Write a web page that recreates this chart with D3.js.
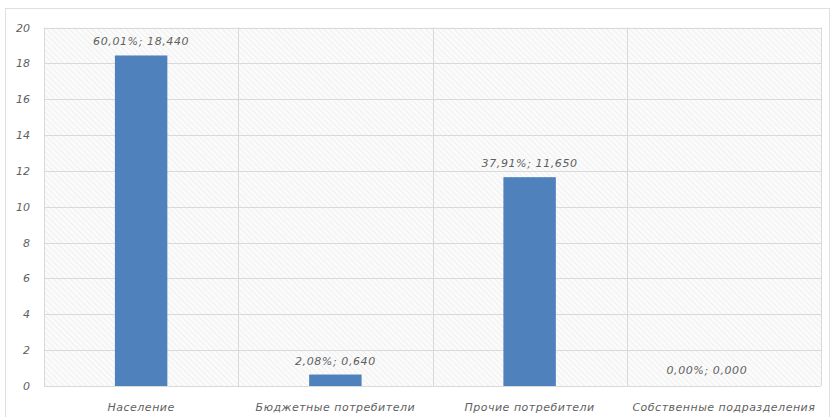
<!DOCTYPE html>
<html>
<head>
<meta charset="utf-8">
<script src="https://cdn.jsdelivr.net/npm/d3@7"></script>
<style>
  body { margin: 0; background: #fff; }
  text { font-family: "DejaVu Sans", sans-serif; font-style: italic; fill: #5f5f5f; }
</style>
</head>
<body>
<div id="chart"></div>
<script>
// data
var categories = ["Население", "Бюджетные потребители", "Прочие потребители", "Собственные подразделения"];
var values = [18.44, 0.64, 11.65, 0.0];
var labels = ["60,01%; 18,440", "2,08%; 0,640", "37,91%; 11,650", "0,00%; 0,000"];
var yTicks = [0, 2, 4, 6, 8, 10, 12, 14, 16, 18, 20];

var width = 834, height = 417;
var margin = {top: 27.5, right: 13, bottom: 31, left: 44};

var svg = d3.select("#chart").append("svg")
    .attr("width", width)
    .attr("height", height);

// diagonal hatch for plot background
var defs = svg.append("defs");
var pat = defs.append("pattern")
    .attr("id", "hatch")
    .attr("patternUnits", "userSpaceOnUse")
    .attr("width", 4)
    .attr("height", 4)
    .attr("patternTransform", "rotate(-45)");
pat.append("rect").attr("width", 4).attr("height", 4).attr("fill", "#fbfbfb");
pat.append("line")
    .attr("x1", 0).attr("y1", 0).attr("x2", 0).attr("y2", 4)
    .attr("stroke", "#e8e8e8").attr("stroke-width", 1.1);

// outer chart border
svg.append("rect")
    .attr("x", 5.5).attr("y", 8.5)
    .attr("width", 824).attr("height", 420)
    .attr("fill", "none")
    .attr("stroke", "#e0e0e0");

var x = d3.scaleBand()
    .domain(categories)
    .range([margin.left, width - margin.right])
    .paddingInner(0)
    .paddingOuter(0);

var y = d3.scaleLinear()
    .domain([0, 20])
    .range([height - margin.bottom, margin.top]);

var g = svg.append("g");

g.append("rect")
    .attr("x", margin.left)
    .attr("y", y(20))
    .attr("width", x.range()[1] - margin.left)
    .attr("height", y(0) - y(20))
    .attr("fill", "url(#hatch)");

// horizontal gridlines
g.selectAll(".hgrid")
    .data(yTicks)
    .enter().append("line")
    .attr("class", "hgrid")
    .attr("x1", margin.left)
    .attr("x2", x.range()[1])
    .attr("y1", function(d) { return Math.round(y(d)) + 0.5; })
    .attr("y2", function(d) { return Math.round(y(d)) + 0.5; })
    .attr("stroke", "#d9d9d9");

// vertical gridlines at category borders
var vLines = categories.map(function(c) { return x(c); }).concat([x.range()[1]]);
g.selectAll(".vgrid")
    .data(vLines)
    .enter().append("line")
    .attr("class", "vgrid")
    .attr("x1", function(d) { return Math.round(d) + 0.5; })
    .attr("x2", function(d) { return Math.round(d) + 0.5; })
    .attr("y1", y(20))
    .attr("y2", y(0))
    .attr("stroke", "#d9d9d9");

// bars
var barW = x.bandwidth() * 0.27;
g.selectAll(".bar")
    .data(values)
    .enter().append("rect")
    .attr("class", "bar")
    .attr("x", function(d, i) { return x(categories[i]) + x.bandwidth() / 2 - barW / 2; })
    .attr("y", function(d) { return y(d); })
    .attr("width", barW)
    .attr("height", function(d) { return y(0) - y(d); })
    .attr("fill", "#4f81bd");

// data labels (the zero label sits a bit left of centre, as in the original)
g.selectAll(".lbl")
    .data(values)
    .enter().append("text")
    .attr("class", "lbl")
    .attr("x", function(d, i) {
        return x(categories[i]) + x.bandwidth() / 2 + (d === 0 ? -17 : 0);
    })
    .attr("y", function(d) { return d === 0 ? y(0) - 12 : y(d) - 10; })
    .attr("text-anchor", "middle")
    .style("font-size", "11px")
    .style("letter-spacing", "0.6px")
    .text(function(d, i) { return labels[i]; });

// y axis labels
g.selectAll(".ytick")
    .data(yTicks)
    .enter().append("text")
    .attr("class", "ytick")
    .attr("x", 30)
    .attr("y", function(d) { return y(d) + 4; })
    .attr("text-anchor", "end")
    .style("font-size", "11px")
    .text(function(d) { return d; });

// x axis labels
g.selectAll(".xtick")
    .data(categories)
    .enter().append("text")
    .attr("class", "xtick")
    .attr("x", function(d) { return x(d) + x.bandwidth() / 2; })
    .attr("y", y(0) + 25)
    .attr("text-anchor", "middle")
    .style("font-size", "11px")
    .style("letter-spacing", "0.5px")
    .text(function(d) { return d; });
</script>
</body>
</html>
